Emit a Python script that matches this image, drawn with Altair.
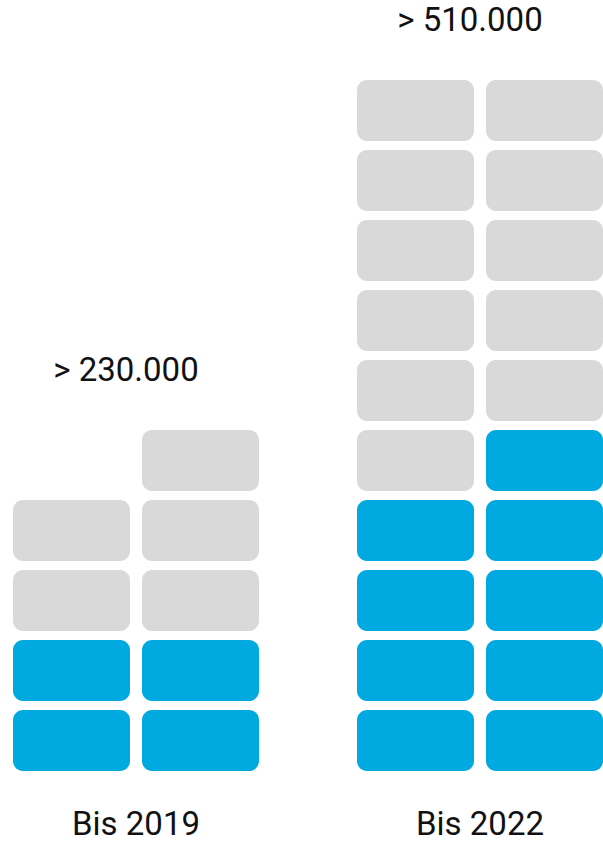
import altair as alt
import pandas as pd

groups = ["Bis 2019", "Bis 2022"]
total_labels = ["> 230.000", "> 510.000"]
# blocks per column (left, right), counted from the bottom
blue_blocks = [[2, 2], [4, 5]]
gray_blocks = [[2, 3], [6, 5]]

BLUE = "#00A9E0"
GRAY = "#D9D9D9"
FONT = "Roboto"

Y_DOMAIN = [-1.043, 11.014]
BLOCK_H = 61 / 70


def panel(i):
    rows = []
    for c in range(2):
        r = 0
        for _ in range(blue_blocks[i][c]):
            rows.append({"col": c, "row": r, "kind": "blue"})
            r += 1
        for _ in range(gray_blocks[i][c]):
            rows.append({"col": c, "row": r, "kind": "gray"})
            r += 1
    df = pd.DataFrame(rows)
    df["row2"] = df["row"] + BLOCK_H

    top = max(b + g for b, g in zip(blue_blocks[i], gray_blocks[i]))
    lab = pd.DataFrame({"text": [total_labels[i]], "y": [top + 0.72]})
    cat = pd.DataFrame({"text": [groups[i]], "y": [-0.77]})

    yscale = alt.Scale(domain=Y_DOMAIN, nice=False, zero=False)
    rects = alt.Chart(df).mark_rect(cornerRadius=10).encode(
        x=alt.X("col:O", scale=alt.Scale(paddingInner=12 / 129, paddingOuter=0), axis=None),
        y=alt.Y("row:Q", scale=yscale, axis=None),
        y2="row2:Q",
        color=alt.Color("kind:N", scale=alt.Scale(domain=["blue", "gray"], range=[BLUE, GRAY]), legend=None),
    )
    top_text = alt.Chart(lab).mark_text(font=FONT, fontSize=33, color="#111111", baseline="middle", dx=-10).encode(
        x=alt.value(123), y=alt.Y("y:Q", scale=yscale, axis=None), text="text:N"
    )
    bot_text = alt.Chart(cat).mark_text(font=FONT, fontSize=33, color="#111111", baseline="middle").encode(
        x=alt.value(123), y=alt.Y("y:Q", scale=yscale, axis=None), text="text:N"
    )
    return alt.layer(rects, top_text, bot_text).properties(width=246, height=844)


chart = alt.hconcat(panel(0), panel(1), spacing=98).properties(
    padding={"left": 13, "top": 0, "right": 0, "bottom": 0},
    background="white",
).configure_view(stroke=None)

chart.save("out.html", embed_options={"renderer": "svg", "actions": False})
